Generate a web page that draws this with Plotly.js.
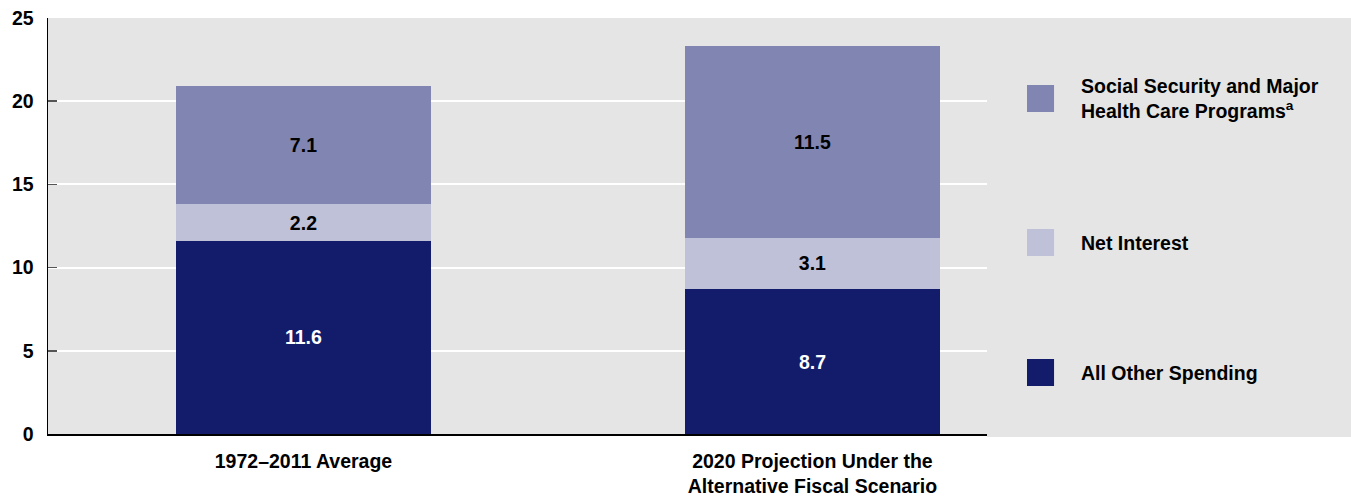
<!DOCTYPE html>
<html>
<head>
<meta charset="utf-8">
<script src="https://cdn.plot.ly/plotly-3.0.1.min.js"></script>
<style>html,body{margin:0;padding:0;background:#fff;}#chart{width:1351px;height:500px;}</style>
</head>
<body>
<div id="chart"></div>
<script>
const categories = ["1972\u20132011 Average", "2020 Projection Under the<br>Alternative Fiscal Scenario"];
const seriesNames = ["All Other Spending", "Net Interest", "Social Security and Major<br>Health Care Programs<sup>a</sup>"];
const allOther = [11.6, 8.7];
const netInterest = [2.2, 3.1];
const socialSecurity = [7.1, 11.5];
const yTicks = [0, 5, 10, 15, 20, 25];

const colors = ["#121c6b", "#bfc1d9", "#8086b1"];
const textColors = ["#ffffff", "#000000", "#000000"];
const values = [allOther, netInterest, socialSecurity];
const FONT = "Liberation Sans, Arial, sans-serif";

const traces = values.map((v, i) => ({
  type: "bar",
  x: [0, 1],
  y: v,
  name: seriesNames[i],
  width: 0.5,
  marker: {color: colors[i], line: {width: 0}},
  text: v.map(d => d.toFixed(1)),
  textposition: "inside",
  insidetextanchor: "middle",
  textangle: 0,
  constraintext: "none",
  textfont: {family: FONT, size: 19.5, color: textColors[i], weight: 700},
  hoverinfo: "skip",
  showlegend: false
}));

// legend (right panel)
const legendY = [0.1478, 0.4603, 0.8065];
const sqH = 27 / 416;
const shapes = [{
  type: "rect", xref: "paper", yref: "paper",
  x0: 1, x1: 1.3877, y0: -0.0072, y1: 1,
  fillcolor: "#e5e5e5", line: {width: 0}, layer: "below"
}];
const annotations = [];
seriesNames.forEach((n, i) => {
  shapes.push({
    type: "rect", xref: "paper", yref: "paper",
    x0: 1.0426, x1: 1.0714, y0: legendY[i] - sqH / 2, y1: legendY[i] + sqH / 2,
    fillcolor: colors[i], line: {width: 0}
  });
  annotations.push({
    xref: "paper", yref: "paper", x: 1.0975, y: legendY[i],
    xanchor: "left", yanchor: "middle", align: "left",
    text: n, showarrow: false,
    font: {family: FONT, size: 19.5, color: "#000", weight: 700}
  });
});

const layout = {
  width: 1351, height: 500,
  margin: {l: 48, r: 364, t: 18, b: 66},
  paper_bgcolor: "#ffffff",
  plot_bgcolor: "#e5e5e5",
  barmode: "stack",
  font: {family: FONT, size: 19.5, color: "#000", weight: 700},
  xaxis: {
    range: [-0.502, 1.343],
    tickvals: [0, 1], ticktext: categories,
    showgrid: false, zeroline: false,
    showline: true, linecolor: "#000", linewidth: 1.5,
    ticks: "", tickfont: {family: FONT, size: 19.5, color: "#000", weight: 700},
    ticklabelstandoff: 9,
    fixedrange: true
  },
  yaxis: {
    range: [0, 25],
    tickvals: yTicks,
    showgrid: true, gridcolor: "#ffffff", gridwidth: 2,
    zeroline: false,
    showline: true, linecolor: "#000", linewidth: 1.5,
    ticks: "inside", ticklen: 9, tickcolor: "#555", tickwidth: 1.5,
    tickfont: {family: FONT, size: 19.5, color: "#000", weight: 700},
    ticklabelstandoff: 9,
    fixedrange: true
  },
  shapes: shapes,
  annotations: annotations
};

Plotly.newPlot("chart", traces, layout, {displayModeBar: false, staticPlot: true});
</script>
</body>
</html>
